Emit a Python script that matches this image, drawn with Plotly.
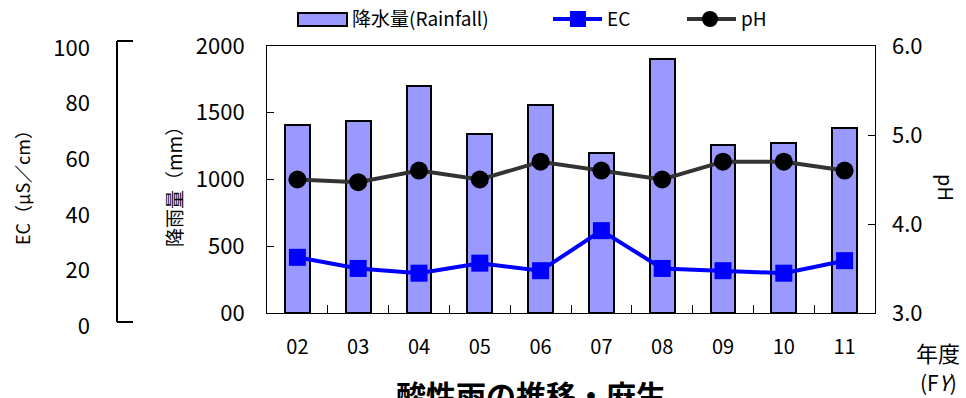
import plotly.graph_objects as go

W, H = 966, 398

years = ["02", "03", "04", "05", "06", "07", "08", "09", "10", "11"]
rainfall = [1410, 1440, 1700, 1340, 1560, 1200, 1900, 1255, 1270, 1385]
ec = [24.7, 20.7, 19.0, 22.6, 19.9, 34.3, 20.7, 19.9, 19.0, 23.5]
ph = [4.5, 4.47, 4.6, 4.5, 4.7, 4.6, 4.5, 4.7, 4.7, 4.6]

rain_ticks = [0, 500, 1000, 1500, 2000]
rain_ticktext = ["00", "500", "1000", "1500", "2000"]
ec_ticks = [0, 20, 40, 60, 80, 100]
ph_ticks = [3.0, 4.0, 5.0, 6.0]

FONT = "Noto Sans CJK JP"


def px(x):
    return x / W


def py(y):
    return (H - y) / H


fig = go.Figure()
fig.add_trace(go.Bar(
    x=years, y=rainfall, width=0.41,
    marker=dict(color="#9999FF", line=dict(color="black", width=2)),
    name="降水量(Rainfall)", xaxis="x", yaxis="y",
))
fig.add_trace(go.Scatter(
    x=years, y=ph, mode="lines+markers", xaxis="x", yaxis="y2", name="pH",
    line=dict(color="#333333", width=4),
    marker=dict(symbol="circle", size=18, color="black"),
))
fig.add_trace(go.Scatter(
    x=years, y=ec, mode="lines+markers", xaxis="x", yaxis="y3", name="EC",
    line=dict(color="#0000FF", width=4),
    marker=dict(symbol="square", size=17, color="#0000FF"),
))

xtickfont = dict(family=FONT, size=20, color="black")
ytickfont = dict(family=FONT, size=22, color="black")

fig.update_layout(
    template="none",
    width=W, height=H,
    margin=dict(l=0, r=0, t=0, b=0, autoexpand=False),
    paper_bgcolor="white", plot_bgcolor="rgba(0,0,0,0)",
    showlegend=False,
    bargap=0,
    xaxis=dict(
        domain=[px(267), px(875)], type="category", range=[-0.5, 9.5],
        showline=True, linecolor="black", linewidth=1, mirror=True,
        ticks="inside", ticklen=8, tickcolor="black", tickson="boundaries",
        tickfont=xtickfont, ticklabelstandoff=16, showgrid=False, zeroline=False,
        anchor="y", automargin=False,
    ),
    yaxis=dict(
        domain=[py(313), py(46)], range=[0, 2000],
        tickvals=rain_ticks, ticktext=rain_ticktext,
        showline=True, linecolor="black", linewidth=1, mirror=True,
        ticks="inside", ticklen=7, tickcolor="black",
        tickfont=ytickfont, ticklabelstandoff=17, showgrid=False, zeroline=False,
        anchor="x", automargin=False,
    ),
    yaxis2=dict(
        overlaying="y", side="right", range=[3, 6], tickvals=ph_ticks,
        tickformat=".1f", ticks="inside", ticklen=7, tickcolor="black",
        tickfont=ytickfont, ticklabelstandoff=16, showgrid=False, zeroline=False,
        anchor="x", automargin=False,
    ),
    yaxis3=dict(
        domain=[py(326), py(48)], range=[0, 100], tickvals=ec_ticks,
        anchor="free", position=px(90), side="left",
        showline=False, ticks="", showgrid=False, zeroline=False,
        tickfont=ytickfont, automargin=False,
    ),
)

shapes = []
# EC axis bracket
for (x0, y0, x1, y1) in [(117, 41, 117, 322), (117, 41, 133, 41), (117, 322, 133, 322)]:
    shapes.append(dict(type="line", xref="paper", yref="paper",
                       x0=px(x0), y0=py(y0), x1=px(x1), y1=py(y1),
                       line=dict(color="black", width=2)))
# Legend: rainfall swatch
shapes.append(dict(type="rect", xref="paper", yref="paper",
                   x0=px(298), y0=py(26), x1=px(347), y1=py(13),
                   fillcolor="#9999FF", line=dict(color="black", width=2)))
# EC legend
shapes.append(dict(type="line", xref="paper", yref="paper",
                   x0=px(553), y0=py(19), x1=px(602), y1=py(19),
                   line=dict(color="#0000FF", width=4)))
shapes.append(dict(type="rect", xref="paper", yref="paper",
                   x0=px(570), y0=py(27), x1=px(586), y1=py(11),
                   fillcolor="#0000FF", line=dict(width=0)))
# pH legend
shapes.append(dict(type="line", xref="paper", yref="paper",
                   x0=px(687), y0=py(19), x1=px(736), y1=py(19),
                   line=dict(color="#333333", width=4)))
shapes.append(dict(type="circle", xref="paper", yref="paper",
                   x0=px(702), y0=py(27), x1=px(718), y1=py(11),
                   fillcolor="black", line=dict(width=0)))
fig.update_layout(shapes=shapes)

ann = []


def text(x, y, s, size=19, angle=0, xanchor="center", bold=False):
    ann.append(dict(xref="paper", yref="paper", x=px(x), y=py(y), text=s,
                    showarrow=False, textangle=angle, xanchor=xanchor,
                    yanchor="middle",
                    font=dict(family=FONT, size=size, color="black",
                              weight="bold" if bold else "normal")))


text(350, 18, "降水量(Rainfall)", size=19, xanchor="left")
text(605, 18, "EC", size=19, xanchor="left")
text(739, 18, "pH", size=19, xanchor="left")
text(22, 183, "EC（μS／cm）", size=18, angle=-90)
text(173, 182, "降雨量（mm）", size=19, angle=-90)
text(947, 187, "pH", size=20, angle=90)
text(938, 352, "年度", size=22)
text(938, 382, "(F<i>Y</i>)", size=21)
text(531, 394, "酸性雨の推移・麻生", size=30, bold=True)
fig.update_layout(annotations=ann)

fig.write_html("out.html", config={"displayModeBar": False},
               post_script="document.body.style.margin='0px';")
